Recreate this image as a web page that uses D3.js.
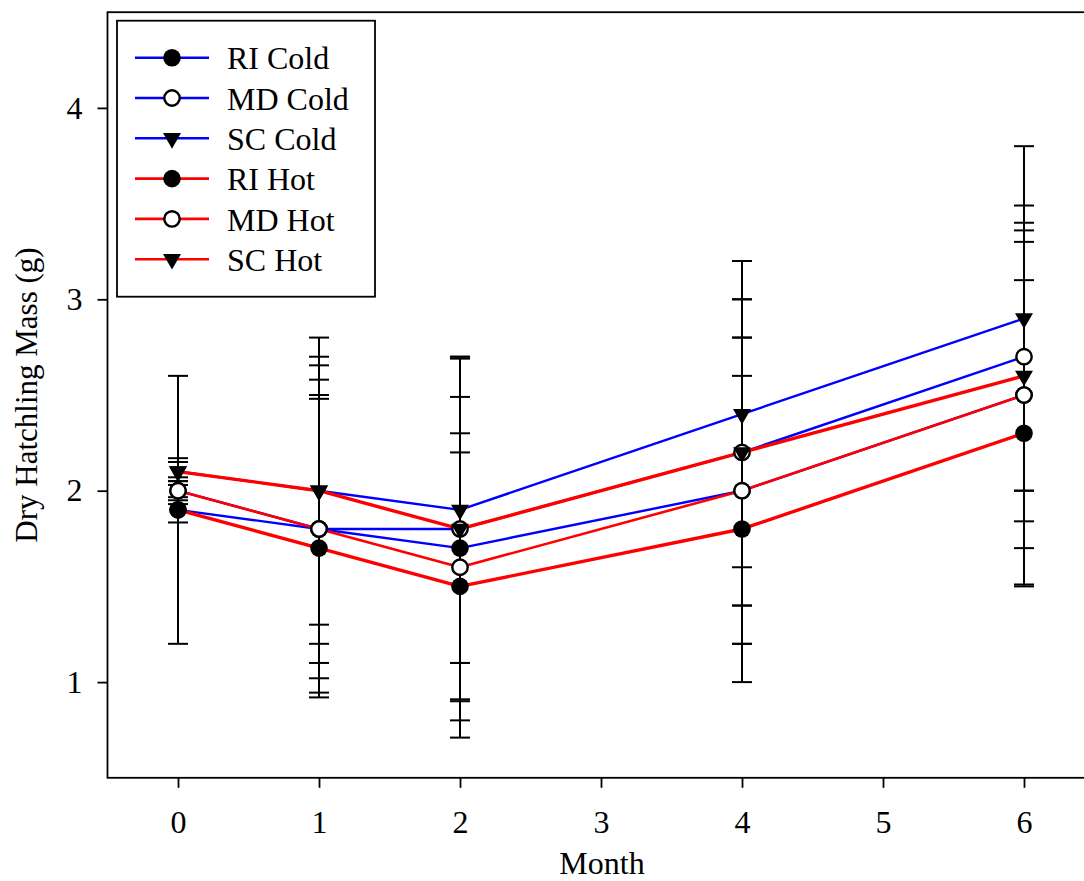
<!DOCTYPE html>
<html>
<head>
<meta charset="utf-8">
<script src="https://cdn.jsdelivr.net/npm/d3@7/dist/d3.min.js"></script>
<style>
  html, body { margin: 0; padding: 0; background: #fff; }
  svg { display: block; }
  text { font-family: "Liberation Serif", "Times New Roman", serif; fill: #000; }
</style>
</head>
<body>
<svg id="chart" width="1084" height="881"></svg>
<script>
// Sampling months
const months = [0, 1, 2, 4, 6];

// Mean dry hatchling mass (g) per group
const riCold = [1.9, 1.8, 1.7, 2.0, 2.5];
const mdCold = [2.0, 1.8, 1.8, 2.2, 2.7];
const scCold = [2.1, 2.0, 1.9, 2.4, 2.9];
const riHot  = [1.9, 1.7, 1.5, 1.8, 2.3];
const mdHot  = [2.0, 1.8, 1.6, 2.0, 2.5];
const scHot  = [2.1, 2.0, 1.8, 2.2, 2.6];

// Error bar half-lengths (g)
const riColdErr = [0.7, 0.7, 0.6, 0.8, 0.8];
const mdColdErr = [0.07, 0.855, 0.89, 0.8, 0.7];
const scColdErr = [0.07, 0.8, 0.8, 0.8, 0.9];
const riHotErr  = [0.066, 0.78, 0.7, 0.8, 0.8];
const mdHotErr  = [0.05, 0.78, 0.89, 0.8, 0.99];
const scHotErr  = [0.05, 0.7, 0.9, 0.8, 0.76];

// Axis ticks
const xTicks = [0, 1, 2, 3, 4, 5, 6];
const yTicks = [1, 2, 3, 4];

const series = [
  { name: "RI Cold", values: riCold, err: riColdErr, color: "#0000ff", width: 2.4, symbol: "filled" },
  { name: "MD Cold", values: mdCold, err: mdColdErr, color: "#0000ff", width: 2.4, symbol: "open" },
  { name: "SC Cold", values: scCold, err: scColdErr, color: "#0000ff", width: 2.4, symbol: "tri" },
  { name: "RI Hot",  values: riHot,  err: riHotErr,  color: "#ff0000", width: 3.4, symbol: "filled" },
  { name: "MD Hot",  values: mdHot,  err: mdHotErr,  color: "#ff0000", width: 2.6, symbol: "open" },
  { name: "SC Hot",  values: scHot,  err: scHotErr,  color: "#ff0000", width: 3.4, symbol: "tri" }
];

const svg = d3.select("#chart");

const x = d3.scaleLinear().domain([-0.5, 6.5]).range([107.5, 1094.5]);
const y = d3.scaleLinear().domain([0.5, 4.5]).range([777.8, 12.2]);

// Axes
const yAxis = d3.axisLeft(y).tickValues(yTicks).tickFormat(d3.format("d")).tickSize(10).tickPadding(15);
const xAxis = d3.axisBottom(x).tickValues(xTicks).tickFormat(d3.format("d")).tickSize(10).tickPadding(22);

const gy = svg.append("g").attr("transform", `translate(${x.range()[0]},0)`).call(yAxis);
const gx = svg.append("g").attr("transform", `translate(0,${y.range()[0]})`).call(xAxis);
[gy, gx].forEach(g => {
  g.select(".domain").remove();
  g.selectAll(".tick line").attr("stroke", "#000").attr("stroke-width", 1.8);
  g.selectAll(".tick text").attr("font-family", "Liberation Serif").attr("font-size", 32).attr("fill", "#000");
});

// Plot frame
svg.append("rect")
  .attr("x", x.range()[0]).attr("y", y.range()[1])
  .attr("width", x.range()[1] - x.range()[0])
  .attr("height", y.range()[0] - y.range()[1])
  .attr("fill", "none").attr("stroke", "#000").attr("stroke-width", 1.8);

// Axis titles
svg.append("text")
  .attr("x", x(3) + 1).attr("y", 874)
  .attr("text-anchor", "middle").attr("font-size", 32)
  .text("Month");

svg.append("text")
  .attr("transform", `translate(37,${(y.range()[0] + y.range()[1]) / 2}) rotate(-90)`)
  .attr("text-anchor", "middle").attr("font-size", 31)
  .text("Dry Hatchling Mass (g)");

// Symbol helpers
const filledCircle = d3.symbol(d3.symbolCircle, Math.PI * 8.8 * 8.8);
const openCircle = d3.symbol(d3.symbolCircle, Math.PI * 7.7 * 7.7);
const triangle = d3.symbol(d3.symbolTriangle, 140);

function drawSymbol(g, kind, cx, cy) {
  if (kind === "filled") {
    g.append("path").attr("d", filledCircle()).attr("transform", `translate(${cx},${cy})`).attr("fill", "#000");
  } else if (kind === "open") {
    g.append("path").attr("d", openCircle()).attr("transform", `translate(${cx},${cy})`)
      .attr("fill", "#fff").attr("stroke", "#000").attr("stroke-width", 2.4);
  } else {
    g.append("path").attr("d", triangle()).attr("transform", `translate(${cx},${cy}) rotate(180)`).attr("fill", "#000");
  }
}

const line = d3.line().x((d, i) => x(months[i])).y(d => y(d));

// Lines
const gLines = svg.append("g");
series.forEach(s => {
  gLines.append("path").attr("d", line(s.values))
    .attr("fill", "none").attr("stroke", s.color).attr("stroke-width", s.width)
    .attr("stroke-linejoin", "round");
});

// Error bars
const gErr = svg.append("g").attr("stroke", "#000").attr("stroke-width", 2);
const capHalf = 10;
series.forEach(s => {
  s.values.forEach((v, i) => {
    const cx = x(months[i]);
    const hi = y(v + s.err[i]), lo = y(v - s.err[i]);
    gErr.append("line").attr("x1", cx).attr("x2", cx).attr("y1", hi).attr("y2", lo);
    gErr.append("line").attr("x1", cx - capHalf).attr("x2", cx + capHalf).attr("y1", hi).attr("y2", hi);
    gErr.append("line").attr("x1", cx - capHalf).attr("x2", cx + capHalf).attr("y1", lo).attr("y2", lo);
  });
});

// Symbols
const gSym = svg.append("g");
series.forEach(s => {
  s.values.forEach((v, i) => drawSymbol(gSym, s.symbol, x(months[i]), y(v)));
});

// Legend
const legend = svg.append("g");
const lgX = 117, lgY = 20.7, lgW = 258, lgH = 276, rowGap = 40.3, row0 = 57.7;
legend.append("rect").attr("x", lgX).attr("y", lgY).attr("width", lgW).attr("height", lgH)
  .attr("fill", "#fff").attr("stroke", "#000").attr("stroke-width", 1.8);
series.forEach((s, i) => {
  const cy = row0 + i * rowGap;
  legend.append("line").attr("x1", 135).attr("x2", 209).attr("y1", cy).attr("y2", cy)
    .attr("stroke", s.color).attr("stroke-width", 2.6);
  drawSymbol(legend, s.symbol, 172, cy);
  legend.append("text").attr("x", 227).attr("y", cy + 11.6).attr("font-size", 32).text(s.name);
});
</script>
</body>
</html>
